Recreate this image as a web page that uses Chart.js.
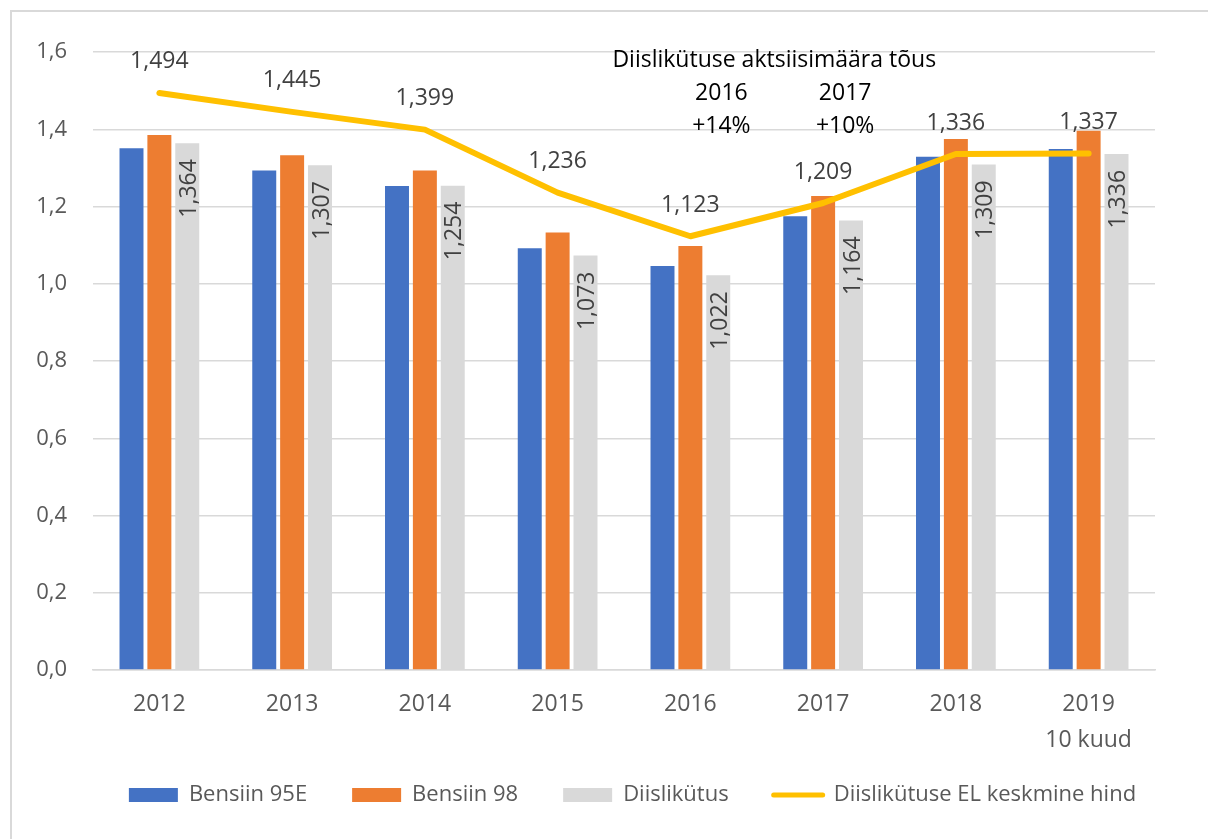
<!DOCTYPE html>
<html>
<head>
<meta charset="utf-8">
<script src="https://cdn.jsdelivr.net/npm/chart.js@4.4.1/dist/chart.umd.min.js"></script>
<style>
  html, body { margin: 0; padding: 0; background: #fff; }
  #wrap { position: relative; width: 1208px; height: 839px; overflow: hidden; }
  #frame { position: absolute; left: 10px; top: 10px; width: 1300px; height: 900px; border: 2px solid #d9d9d9; }
  canvas { position: absolute; left: 0; top: 0; }
</style>
</head>
<body>
<div id="wrap">
  <div id="frame"></div>
  <canvas id="chart" width="1208" height="839"></canvas>
</div>
<script>
const years = ['2012', '2013', '2014', '2015', '2016', '2017', '2018', ['2019', '10 kuud']];
const bensiin95 = [1.351, 1.293, 1.253, 1.092, 1.046, 1.175, 1.329, 1.349];
const bensiin98 = [1.385, 1.333, 1.293, 1.133, 1.098, 1.227, 1.375, 1.396];
const diisel = [1.364, 1.307, 1.254, 1.073, 1.022, 1.164, 1.309, 1.336];
const elKeskmine = [1.494, 1.445, 1.399, 1.236, 1.123, 1.209, 1.336, 1.337];

const aktsiisTitle = 'Diislikütuse aktsiisimäära tõus';
const aktsiisYears = ['2016', '2017'];
const aktsiisRise = ['+14%', '+10%'];

const FONT = '"Open Sans", "Noto Sans", sans-serif';
const fmt = v => v.toFixed(3).replace('.', ',');

// value labels: diesel inside bar top (rotated), EU average above the line
const valueLabels = {
  id: 'valueLabels',
  afterDatasetsDraw(chart) {
    const ctx = chart.ctx;
    ctx.save();
    ctx.fillStyle = '#404040';
    ctx.font = '23px ' + FONT;
    chart.getDatasetMeta(2).data.forEach((bar, i) => {
      ctx.save();
      ctx.translate(bar.x + 2, bar.y + 16);
      ctx.rotate(-Math.PI / 2);
      ctx.textAlign = 'right';
      ctx.textBaseline = 'middle';
      ctx.fillText(fmt(diisel[i]), 0, 0);
      ctx.restore();
    });
    ctx.textAlign = 'center';
    ctx.textBaseline = 'middle';
    chart.getDatasetMeta(3).data.forEach((pt, i) => {
      ctx.fillText(fmt(elKeskmine[i]), pt.x, pt.y - 31);
    });
    ctx.restore();
  }
};

// excise tax note in the top area
const aktsiisNote = {
  id: 'aktsiisNote',
  afterDraw(chart) {
    const ctx = chart.ctx;
    const x = chart.scales.x;
    const x16 = x.getPixelForValue(4) + 31;
    const x17 = x.getPixelForValue(5) + 22;
    ctx.save();
    ctx.fillStyle = '#000';
    ctx.font = '23px ' + FONT;
    ctx.textAlign = 'center';
    ctx.textBaseline = 'middle';
    ctx.fillText(aktsiisTitle, (x16 + x17) / 2 - 9, 60);
    [x16, x17].forEach((cx, i) => {
      ctx.fillText(aktsiisYears[i], cx, 93);
      ctx.fillText(aktsiisRise[i], cx, 126);
    });
    ctx.restore();
  }
};

// legend sits a bit higher and further right than Chart.js would put it
const legendNudge = {
  id: 'legendNudge',
  afterLayout(chart) {
    const lg = chart.legend;
    lg.left += 40; lg.right += 40;
    lg.top -= 21; lg.bottom -= 21;
  }
};

new Chart(document.getElementById('chart'), {
  type: 'bar',
  data: {
    labels: years,
    datasets: [
      { label: 'Bensiin 95E', data: bensiin95, backgroundColor: '#4472C4', order: 1 },
      { label: 'Bensiin 98', data: bensiin98, backgroundColor: '#ED7D31', order: 1 },
      { label: 'Diislikütus', data: diisel, backgroundColor: '#D9D9D9', order: 1 },
      {
        type: 'line', label: 'Diislikütuse EL keskmine hind', data: elKeskmine,
        borderColor: '#FFC000', backgroundColor: '#FFC000', borderWidth: 6,
        pointRadius: 0, borderCapStyle: 'round', borderJoinStyle: 'round', order: 0
      }
    ]
  },
  options: {
    responsive: false,
    animation: false,
    devicePixelRatio: 1,
    layout: { padding: { left: 30, right: 53, top: 52, bottom: 2 } },
    datasets: { bar: { categoryPercentage: 0.63, barPercentage: 0.86 } },
    scales: {
      y: {
        min: 0, max: 1.6,
        afterFit(scale) { scale.width = 63; },
        ticks: {
          stepSize: 0.2, padding: 26, color: '#595959',
          font: { family: FONT, size: 22 },
          callback: v => v.toFixed(1).replace('.', ',')
        },
        grid: { color: '#d9d9d9', lineWidth: 1.5, drawTicks: false },
        border: { display: false }
      },
      x: {
        afterFit(scale) { scale.height = 90; },
        ticks: {
          padding: 17, color: '#595959',
          font: { family: FONT, size: 23, lineHeight: 1.55 },
          maxRotation: 0
        },
        grid: { display: false, drawTicks: false },
        border: { color: '#d9d9d9', width: 1.5 }
      }
    },
    plugins: {
      tooltip: { enabled: false },
      legend: {
        position: 'bottom',
        labels: {
          usePointStyle: true, pointStyleWidth: 49, boxHeight: 14,
          padding: 45, color: '#595959',
          font: { family: FONT, size: 22 },
          generateLabels(chart) {
            return chart.data.datasets.map((ds, i) => ({
              text: ds.label,
              datasetIndex: i,
              fillStyle: ds.type === 'line' ? ds.borderColor : ds.backgroundColor,
              strokeStyle: ds.type === 'line' ? ds.borderColor : ds.backgroundColor,
              lineWidth: ds.type === 'line' ? 5 : 0,
              lineCap: 'round',
              pointStyle: ds.type === 'line' ? 'line' : 'rect',
              fontColor: '#595959',
              hidden: false
            }));
          }
        }
      }
    }
  },
  plugins: [valueLabels, aktsiisNote, legendNudge]
});
</script>
</body>
</html>
